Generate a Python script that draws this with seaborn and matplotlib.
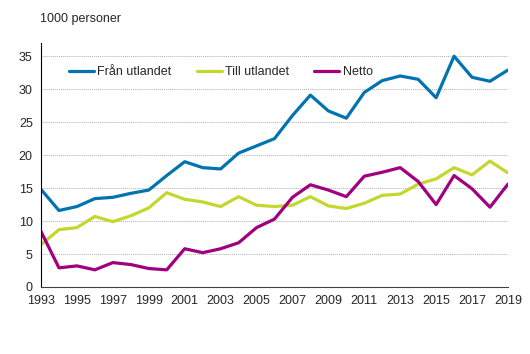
import pandas as pd
import numpy as np
import matplotlib
matplotlib.use('Agg')
import matplotlib.pyplot as plt
import seaborn as sns

years = list(range(1993, 2020))
fran_utlandet = [14.8, 11.6, 12.2, 13.4, 13.6, 14.2, 14.7, 16.9, 19.0, 18.1, 17.9, 20.3, 21.4, 22.5,
                 26.0, 29.1, 26.7, 25.6, 29.5, 31.3, 32.0, 31.5, 28.7, 35.0, 31.8, 31.2, 32.9]
till_utlandet = [6.4, 8.7, 9.0, 10.7, 9.9, 10.8, 12.0, 14.3, 13.3, 12.9, 12.2, 13.7, 12.4, 12.2,
                 12.4, 13.7, 12.3, 11.9, 12.7, 13.9, 14.1, 15.6, 16.4, 18.1, 17.0, 19.1, 17.3]
netto = [8.4, 2.9, 3.2, 2.6, 3.7, 3.4, 2.8, 2.6, 5.8, 5.2, 5.8, 6.7, 9.0, 10.3,
         13.6, 15.5, 14.7, 13.7, 16.8, 17.4, 18.1, 16.0, 12.5, 16.9, 14.9, 12.1, 15.6]
series_names = ['Från utlandet', 'Till utlandet', 'Netto']
colors = ['#0073b0', '#c3d82e', '#a0007f']

df = pd.DataFrame({'year': years * 3,
                   'value': fran_utlandet + till_utlandet + netto,
                   'serie': [n for n in series_names for _ in years]})

sns.set_style('white')
plt.rcParams['font.family'] = ['Liberation Sans', 'DejaVu Sans']
plt.rcParams['font.size'] = 9

fig = plt.figure(figsize=(5.3, 3.54), dpi=100)
ax = fig.add_axes([0.0774, 0.1893, 0.881, 0.6892])
sns.lineplot(data=df, x='year', y='value', hue='serie', palette=colors,
             linewidth=2.3, ax=ax, legend=True)

ax.set_xlim(1993, 2019)
ax.set_ylim(0, 37)
ax.set_xticks(range(1993, 2020, 2))
ax.set_yticks(range(0, 36, 5))
ax.set_xlabel('')
ax.set_ylabel('')
ax.yaxis.grid(True, color='#b0b0b0', linestyle=(0, (1, 1)), linewidth=0.7)
ax.set_axisbelow(True)
for s in ['top', 'right']:
    ax.spines[s].set_visible(False)
ax.spines['left'].set_color('black')
ax.spines['bottom'].set_color('#404040')
ax.tick_params(axis='x', direction='out', length=4, color='#404040', labelsize=9, pad=2)
ax.tick_params(axis='y', length=0, labelsize=9, pad=6)

ax.legend(title=None, ncol=3, frameon=False, loc='upper left', bbox_to_anchor=(0.035, 0.95),
          handlelength=2.0, handletextpad=0.3, columnspacing=2.0, fontsize=9)
fig.text(0.075, 0.945, '1000 personer', fontsize=9, va='center')

fig.savefig('out.png', dpi=100)
